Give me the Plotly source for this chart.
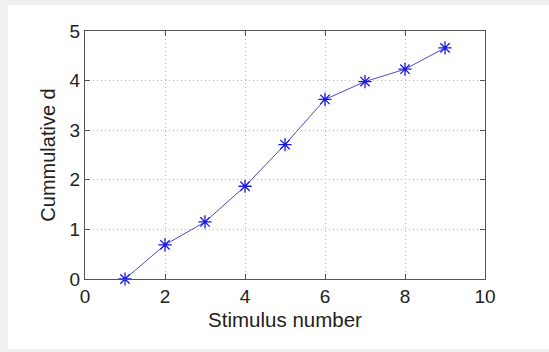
import plotly.graph_objects as go

stimulus = [1, 2, 3, 4, 5, 6, 7, 8, 9]
cumulative_d = [0.0, 0.69, 1.15, 1.87, 2.71, 3.62, 3.98, 4.23, 4.66]
x_ticks = [0, 2, 4, 6, 8, 10]
y_ticks = [0, 1, 2, 3, 4, 5]

W, H = 549, 352
L, R, T, B = 85, 485, 31, 279

def px_x(px):
    return (px - L) / (R - L)

def px_y(py):
    return (B - py) / (B - T)

fig = go.Figure()
fig.add_trace(go.Scatter(
    x=stimulus, y=cumulative_d, mode="lines+markers",
    line=dict(color="#4a4ad0", width=1),
    marker=dict(symbol="asterisk", size=11, color="#1a1ae0",
                line=dict(color="#1a1ae0", width=1.3)),
    showlegend=False, cliponaxis=False,
))

axis_common = dict(
    showline=True, mirror="ticks", linecolor="#555555", linewidth=1,
    ticks="inside", ticklen=5, tickcolor="#555555", tickwidth=1,
    showgrid=True, gridcolor="#b4b4b4", griddash="1px,3px", gridwidth=1,
    zeroline=False,
    tickfont=dict(family="Liberation Sans, Arial", size=19, color="#222222"),
)

fig.update_layout(
    width=W, height=H,
    margin=dict(l=L, r=W - R, t=T, b=H - B, pad=0),
    paper_bgcolor="#f0f0f0", plot_bgcolor="white",
    xaxis=dict(range=[0, 10], tickvals=x_ticks,
               title=dict(text="Stimulus number", standoff=6,
                          font=dict(family="Liberation Sans, Arial", size=20.5, color="#222222")),
               **axis_common),
    yaxis=dict(range=[0, 5], tickvals=y_ticks,
               title=dict(text="Cummulative d", standoff=8,
                          font=dict(family="Liberation Sans, Arial", size=20, color="#222222")),
               **axis_common),
    shapes=[dict(type="rect", xref="paper", yref="paper", layer="below",
                 x0=px_x(8), x1=px_x(W + 2), y0=px_y(349), y1=px_y(5),
                 fillcolor="white", line=dict(width=0))],
)

fig.write_html("out.html")
